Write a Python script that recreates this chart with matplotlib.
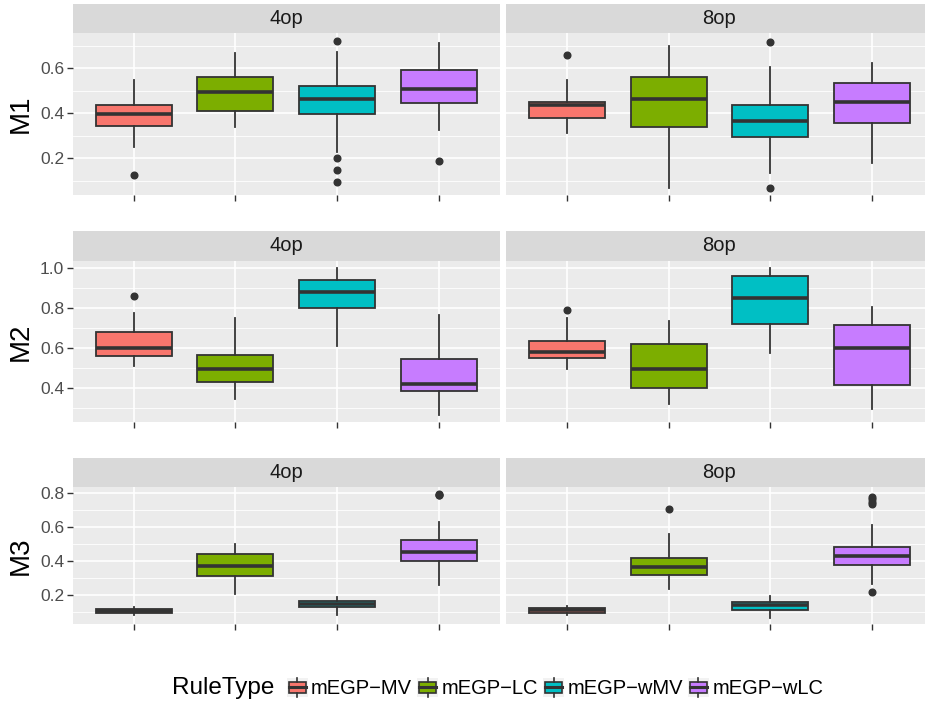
import numpy as np
import matplotlib
matplotlib.use("Agg")
import matplotlib.pyplot as plt
from matplotlib.patches import Rectangle, Patch
from matplotlib.lines import Line2D
from matplotlib.legend_handler import HandlerBase

plt.rcParams['font.family'] = ['Liberation Sans', 'DejaVu Sans']

rules = ["mEGP\u2212MV", "mEGP\u2212LC", "mEGP\u2212wMV", "mEGP\u2212wLC"]
colors = ["#F8766D", "#7CAE00", "#00BFC4", "#C77CFF"]
metrics = ["M1", "M2", "M3"]
ops = ["4op", "8op"]

# box stats: whisker low, q1, median, q3, whisker high, outliers
M1_4op_lo  = [0.249, 0.338, 0.226, 0.326]
M1_4op_q1  = [0.345, 0.411, 0.398, 0.445]
M1_4op_med = [0.398, 0.493, 0.465, 0.508]
M1_4op_q3  = [0.435, 0.560, 0.521, 0.592]
M1_4op_hi  = [0.546, 0.668, 0.673, 0.710]
M1_4op_out = [[0.124], [], [0.722, 0.200, 0.148, 0.094], [0.186]]

M1_8op_lo  = [0.311, 0.070, 0.136, 0.180]
M1_8op_q1  = [0.380, 0.338, 0.295, 0.358]
M1_8op_med = [0.435, 0.462, 0.365, 0.451]
M1_8op_q3  = [0.451, 0.560, 0.435, 0.534]
M1_8op_hi  = [0.546, 0.698, 0.606, 0.625]
M1_8op_out = [[0.657], [], [0.717, 0.070], []]

M2_4op_lo  = [0.513, 0.348, 0.613, 0.268]
M2_4op_q1  = [0.560, 0.432, 0.802, 0.388]
M2_4op_med = [0.602, 0.497, 0.878, 0.423]
M2_4op_q3  = [0.680, 0.568, 0.938, 0.547]
M2_4op_hi  = [0.778, 0.752, 1.000, 0.767]
M2_4op_out = [[0.862], [], [], []]

M2_8op_lo  = [0.495, 0.320, 0.578, 0.298]
M2_8op_q1  = [0.550, 0.402, 0.722, 0.418]
M2_8op_med = [0.580, 0.495, 0.848, 0.603]
M2_8op_q3  = [0.635, 0.623, 0.960, 0.715]
M2_8op_hi  = [0.753, 0.735, 1.000, 0.807]
M2_8op_out = [[0.790], [], [], []]

M3_4op_lo  = [0.083, 0.208, 0.083, 0.260]
M3_4op_q1  = [0.097, 0.313, 0.128, 0.402]
M3_4op_med = [0.109, 0.371, 0.146, 0.450]
M3_4op_q3  = [0.120, 0.439, 0.163, 0.524]
M3_4op_hi  = [0.128, 0.499, 0.192, 0.625]
M3_4op_out = [[], [], [], [0.794, 0.788, 0.783]]

M3_8op_lo  = [0.085, 0.235, 0.066, 0.266]
M3_8op_q1  = [0.097, 0.317, 0.111, 0.377]
M3_8op_med = [0.111, 0.365, 0.140, 0.427]
M3_8op_q3  = [0.122, 0.419, 0.161, 0.482]
M3_8op_hi  = [0.134, 0.557, 0.194, 0.612]
M3_8op_out = [[], [0.701], [], [0.775, 0.761, 0.746, 0.735, 0.217]]

major_ticks = {"M1": [0.2, 0.4, 0.6], "M2": [0.4, 0.6, 0.8, 1.0], "M3": [0.2, 0.4, 0.6, 0.8]}
tick_labels = {"M1": ["0.2", "0.4", "0.6"], "M2": ["0.4", "0.6", "0.8", "1.0"],
               "M3": ["0.2", "0.4", "0.6", "0.8"]}
minor_ticks = {"M1": [0.1, 0.3, 0.5, 0.7], "M2": [0.3, 0.5, 0.7, 0.9], "M3": [0.1, 0.3, 0.5, 0.7]}

g = globals()

def panel_stats(m, op):
    p = f"{m}_{op}_"
    out = []
    for i in range(4):
        out.append(dict(whislo=g[p + "lo"][i], q1=g[p + "q1"][i], med=g[p + "med"][i],
                        q3=g[p + "q3"][i], whishi=g[p + "hi"][i], fliers=g[p + "out"][i]))
    return out

W, H = 925, 704
fig = plt.figure(figsize=(W / 100, H / 100), dpi=100)

col_left = [72.7, 506.0]
col_w = 427.0
rows = [(4.0, 33.3, 195.0), (230.7, 260.7, 422.0), (458.3, 487.3, 624.3)]  # strip top, panel top, panel bottom

dark = "#333333"
for r, m in enumerate(metrics):
    st, pt, pb = rows[r]
    # row-wide y range with 5% padding like ggplot
    vals = []
    for op in ops:
        for s in panel_stats(m, op):
            vals += [s["whislo"], s["whishi"]] + list(s["fliers"])
    lo, hi = min(vals), max(vals)
    pad = (hi - lo) * 0.05
    for c, op in enumerate(ops):
        ax = fig.add_axes([col_left[c] / W, 1 - pb / H, col_w / W, (pb - pt) / H])
        ax.set_facecolor("#EBEBEB")
        for sp in ax.spines.values():
            sp.set_visible(False)
        ax.set_axisbelow(True)
        bp = ax.bxp(panel_stats(m, op), positions=[1, 2, 3, 4], widths=0.75,
                    patch_artist=True, showcaps=False,
                    boxprops=dict(edgecolor=dark, linewidth=1.3),
                    medianprops=dict(color=dark, linewidth=2.6, solid_capstyle="butt"),
                    whiskerprops=dict(color=dark, linewidth=1.3),
                    flierprops=dict(marker="o", markerfacecolor=dark, markeredgecolor=dark,
                                    markersize=4.8, linestyle="none"))
        for patch, col in zip(bp["boxes"], colors):
            patch.set_facecolor(col)
        ax.set_xlim(0.4, 4.6)
        ax.set_ylim(lo - pad, hi + pad)
        ax.set_xticks([1, 2, 3, 4])
        ax.set_xticklabels([])
        ax.set_yticks(major_ticks[m])
        ax.set_yticks(minor_ticks[m], minor=True)
        ax.grid(which="major", color="white", linewidth=1.2)
        ax.grid(which="minor", axis="y", color="white", linewidth=0.6)
        ax.tick_params(axis="x", which="major", length=4, width=1, color=dark)
        ax.tick_params(axis="y", which="minor", length=0)
        if c == 0:
            ax.set_yticklabels(tick_labels[m])
            ax.tick_params(axis="y", which="major", length=4, width=1, color=dark,
                           labelsize=12.5, labelcolor="#4D4D4D", pad=2)
        else:
            ax.set_yticklabels([])
            ax.tick_params(axis="y", which="major", length=0)
        # strip
        sax = fig.add_axes([col_left[c] / W, 1 - pt / H, col_w / W, (pt - st) / H])
        sax.set_facecolor("#D9D9D9")
        sax.set_xticks([])
        sax.set_yticks([])
        for sp in sax.spines.values():
            sp.set_visible(False)
        sax.text(0.5, 0.5, op, ha="center", va="center", fontsize=14.5, color="#1A1A1A",
                 transform=sax.transAxes)
    fig.text(21 / W, 1 - (pt + pb) / 2 / H, m, rotation=90, ha="center", va="center",
             fontsize=20, color="black")


class BoxHandler(HandlerBase):
    def create_artists(self, legend, orig_handle, xdescent, ydescent, width, height,
                       fontsize, trans):
        x0, y0 = -xdescent, -ydescent
        bg = Rectangle((x0, y0), width, height, facecolor="#F2F2F2", edgecolor="none",
                       transform=trans)
        bx = Rectangle((x0 + width * 0.11, y0 + height * 0.2), width * 0.78, height * 0.58,
                       facecolor=orig_handle.get_facecolor(), edgecolor=dark, linewidth=1.2,
                       transform=trans)
        med = Line2D([x0 + width * 0.11, x0 + width * 0.89], [y0 + height * 0.49] * 2,
                     color=dark, linewidth=2.2, transform=trans)
        w1 = Line2D([x0 + width / 2] * 2, [y0 + height * 0.78, y0 + height], color=dark,
                    linewidth=1.2, transform=trans)
        w2 = Line2D([x0 + width / 2] * 2, [y0, y0 + height * 0.2], color=dark,
                    linewidth=1.2, transform=trans)
        return [bg, bx, med, w1, w2]


handles = [Patch(facecolor=col) for col in colors]
fig.text(172 / W, 1 - 688 / H, "RuleType", ha="left", va="center", fontsize=17.5,
         color="black")
fig.legend(handles, rules, handler_map={Patch: BoxHandler()}, loc="center left",
           bbox_to_anchor=(286.7 / W, 1 - 688 / H), ncol=4, frameon=False,
           fontsize=14.5, handlelength=1.05, handleheight=1.05, handletextpad=0.16,
           columnspacing=0.25, borderpad=0, borderaxespad=0)

fig.savefig("out.png", dpi=100)
